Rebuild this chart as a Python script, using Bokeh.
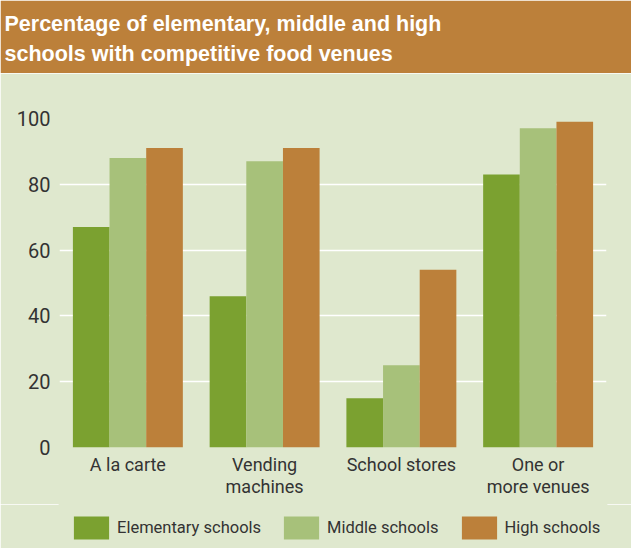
from bokeh.plotting import figure
from bokeh.layouts import column
from bokeh.models import ColumnDataSource, FactorRange, Range1d, Legend, LegendItem, FixedTicker, Title
from bokeh.transform import dodge
from bokeh.embed import file_html
from bokeh.resources import INLINE

categories = ["A la carte", "Vending\nmachines", "School stores", "One or\nmore venues"]
elementary = [67, 46, 15, 83]
middle = [88, 87, 25, 97]
high = [91, 91, 54, 99]
series_names = ["Elementary schools", "Middle schools", "High schools"]
title_lines = ["Percentage of elementary, middle and high", "schools with competitive food venues"]
y_ticks = [0, 20, 40, 60, 80, 100]

BG = "#DFE8CE"
BROWN = "#BC803A"
GREEN = "#7BA130"
LIGHT = "#A7C17A"
TXT = "#333333"
FONT = "Roboto"
colors = [GREEN, LIGHT, BROWN]


def bare(fig, fill):
    fig.grid.visible = False
    fig.background_fill_color = fill
    fig.border_fill_color = fill
    fig.outline_line_color = fill
    fig.outline_line_width = 2


# Banner figure (title only)
b = figure(width=631, height=73, x_range=Range1d(0, 1), y_range=Range1d(0, 1),
           output_backend="svg", toolbar_location=None,
           min_border_top=66, min_border_bottom=0, min_border_left=0, min_border_right=0,
           x_axis_type=None, y_axis_type=None)
bare(b, BROWN)
b.title = Title(text="\n".join(title_lines), text_color="white",
                text_font="Liberation Sans", text_font_style="bold",
                text_font_size="21.5px", text_line_height=1.28, align="left",
                offset=-55, standoff=0)

# Main chart
src = ColumnDataSource(dict(cat=categories, elementary=elementary, middle=middle, high=high))
p = figure(x_range=FactorRange(*categories, range_padding=0), y_range=Range1d(0, 100),
           width=631, height=431, output_backend="svg", toolbar_location=None,
           min_border_left=59, min_border_right=25, min_border_top=45, min_border_bottom=57)
bare(p, BG)
p.ygrid.visible = True
p.ygrid.grid_line_color = "white"
p.ygrid.grid_line_width = 1.5
p.ygrid.ticker = FixedTicker(ticks=y_ticks)

w = 0.268
p.vbar(x=dodge("cat", -w, range=p.x_range), top="elementary", width=w, source=src,
       fill_color=colors[0], line_color=None)
p.vbar(x=dodge("cat", 0, range=p.x_range), top="middle", width=w, source=src,
       fill_color=colors[1], line_color=None)
p.vbar(x=dodge("cat", w, range=p.x_range), top="high", width=w, source=src,
       fill_color=colors[2], line_color=None)

p.yaxis.ticker = FixedTicker(ticks=y_ticks)
for ax in (p.xaxis, p.yaxis):
    ax.axis_line_color = None
    ax.major_tick_line_color = None
    ax.minor_tick_line_color = None
    ax.major_tick_in = 0
    ax.major_tick_out = 0
    ax.major_label_text_color = TXT
    ax.major_label_text_font = FONT
p.yaxis.major_label_text_font_size = "20px"
p.yaxis.major_label_standoff = 9
p.xaxis.major_label_text_font_size = "18px"
p.xaxis.major_label_text_line_height = 1.05
p.xaxis.major_label_standoff = 6

# Legend strip (zero-size proxy glyphs only carry the swatch styles)
lg = figure(width=631, height=44, x_range=Range1d(0, 1), y_range=Range1d(0, 1),
            output_backend="svg", toolbar_location=None,
            min_border_top=0, min_border_bottom=0, min_border_left=0, min_border_right=0,
            x_axis_type=None, y_axis_type=None)
bare(lg, BG)
items = []
for name, c in zip(series_names, colors):
    r = lg.vbar(x=[0], top=[0], bottom=[0], width=0, fill_color=c, line_color=None)
    items.append(LegendItem(label=name, renderers=[r]))
legend = Legend(items=items, orientation="horizontal", location=(10, 6), padding=0, margin=0,
                spacing=18, label_standoff=4, glyph_width=44, glyph_height=29,
                label_height=29, label_text_font=FONT,
                label_text_font_size="16.5px", label_text_color=TXT,
                background_fill_alpha=0, border_line_color=None)
lg.add_layout(legend)

layout = column(b, p, lg, spacing=0)
open("out.html", "w").write(file_html(layout, INLINE))
